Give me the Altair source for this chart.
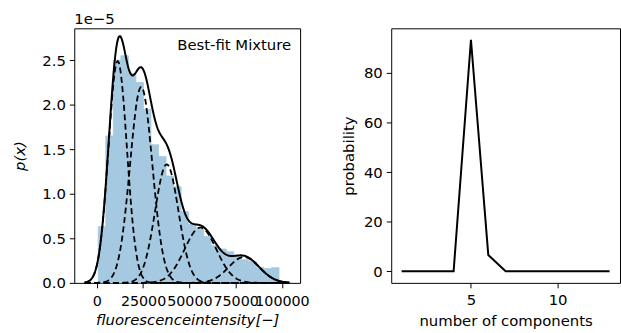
import numpy as np
import pandas as pd
import altair as alt

# ---- histogram (density) ----
bin_edges = [800, 4867, 8933, 13000, 17067, 21133, 25200, 29267, 33333, 37400,
             41467, 45533, 49600, 53667, 57733, 61800, 65867, 69933, 74000,
             78067, 82133, 86200, 90267, 94333, 98400]
bin_heights_e5 = [0.63, 1.65, 2.50, 2.55, 2.35, 2.25, 1.95, 1.55, 1.42, 1.20,
                  1.08, 0.80, 0.66, 0.60, 0.52, 0.42, 0.38, 0.35, 0.30, 0.26,
                  0.24, 0.17, 0.16, 0.17]

# ---- fitted mixture components ----
comp_means = [11300, 24000, 37800, 56000, 79500]
comp_sds = [5000, 6000, 6300, 8600, 8300]
comp_peaks_e5 = [2.49, 2.20, 1.33, 0.62, 0.29]
curve_range = [-6500, 104000]

# ---- probability vs number of components ----
n_components = [1, 2, 3, 4, 5, 6, 7, 8, 9, 10, 11, 12, 13]
probability = [0, 0, 0, 0, 93.4, 6.6, 0, 0, 0, 0, 0, 0, 0]

hist_df = pd.DataFrame({
    "x0": bin_edges[:-1],
    "x1": bin_edges[1:],
    "h": [v * 1e-5 for v in bin_heights_e5],
})

xs = np.linspace(curve_range[0], curve_range[1], 400)
rows = []
total = np.zeros_like(xs)
for i, (m, s, p) in enumerate(zip(comp_means, comp_sds, comp_peaks_e5)):
    y = p * 1e-5 * np.exp(-0.5 * ((xs - m) / s) ** 2)
    total += y
    for xv, yv in zip(xs, y):
        rows.append({"x": xv, "y": yv, "comp": f"c{i}"})
comp_df = pd.DataFrame(rows)
total_df = pd.DataFrame({"x": xs, "y": total})

prob_df = pd.DataFrame({"k": n_components, "p": probability})

FONT = "DejaVu Sans"
FS = 15
W1, W2, H = 228, 231, 257
HIST_COLOR = "#a5c9e1"

xscale_l = alt.Scale(domain=[-12140, 109800], nice=False, zero=False)
yscale_l = alt.Scale(domain=[0, 2.858e-5], nice=False, zero=False)

axis_common = dict(labelFont=FONT, labelFontSize=FS, labelColor="black",
                   titleFont=FONT, titleFontSize=FS, titleColor="black",
                   titleFontWeight="normal", tickColor="black", tickSize=5,
                   domain=False, grid=False)
xaxis_left = dict(axis_common, labelFontSize=14.4)

hist = alt.Chart(hist_df).mark_rect(color=HIST_COLOR, stroke=HIST_COLOR,
                                    strokeWidth=0.8).encode(
    x=alt.X("x0:Q", scale=xscale_l,
            axis=alt.Axis(values=[0, 25000, 50000, 75000, 100000], format="d",
                          title="fluorescenceintensity[−]", titleFontStyle="italic",
                          titlePadding=5, labelPadding=7, labelOverlap=False,
                          labelFlush=False, **xaxis_left)),
    x2="x1:Q",
    y=alt.Y("h:Q", scale=yscale_l,
            axis=alt.Axis(values=[0, 0.5e-5, 1e-5, 1.5e-5, 2e-5, 2.5e-5],
                          labelExpr="format(datum.value*1e5, '.1f')",
                          title="p(x)", titleFontStyle="italic", titlePadding=14,
                          labelPadding=4, **axis_common)),
    y2=alt.datum(0),
)

comps = alt.Chart(comp_df).mark_line(color="black", strokeWidth=1.8,
                                      strokeDash=[6, 3.5]).encode(
    x=alt.X("x:Q", scale=xscale_l),
    y=alt.Y("y:Q", scale=yscale_l),
    detail="comp:N",
)
tot = alt.Chart(total_df).mark_line(color="black", strokeWidth=2).encode(
    x=alt.X("x:Q", scale=xscale_l),
    y=alt.Y("y:Q", scale=yscale_l),
)
label = alt.Chart(pd.DataFrame({"t": ["Best-fit Mixture"]})).mark_text(
    align="right", baseline="middle", font=FONT, fontSize=FS, color="black"
).encode(x=alt.value(W1 - 9), y=alt.value(17), text="t:N")
offset = alt.Chart(pd.DataFrame({"t": ["1e−5"]})).mark_text(
    align="left", baseline="middle", font=FONT, fontSize=FS, color="black"
).encode(x=alt.value(0), y=alt.value(-9), text="t:N")

left = alt.layer(hist, comps, tot, label, offset).properties(width=W1, height=H)

right = alt.Chart(prob_df).mark_line(color="black", strokeWidth=2).encode(
    x=alt.X("k:Q", scale=alt.Scale(domain=[0.4, 13.6], nice=False, zero=False),
            axis=alt.Axis(values=[5, 10], title="number of components",
                          titlePadding=6, labelPadding=5, **axis_common)),
    y=alt.Y("p:Q", scale=alt.Scale(domain=[-4.67, 98], nice=False, zero=False),
            axis=alt.Axis(values=[0, 20, 40, 60, 80], title="probability",
                          titlePadding=7, labelPadding=4, **axis_common)),
).properties(width=W2, height=H)

chart = alt.hconcat(left, right, spacing=31).properties(
    padding={"left": 12, "top": 10, "right": 0, "bottom": 0},
    background="white",
).configure_view(stroke="black", strokeWidth=1)

chart.save("out.html", embed_options={"renderer": "svg", "actions": False})
